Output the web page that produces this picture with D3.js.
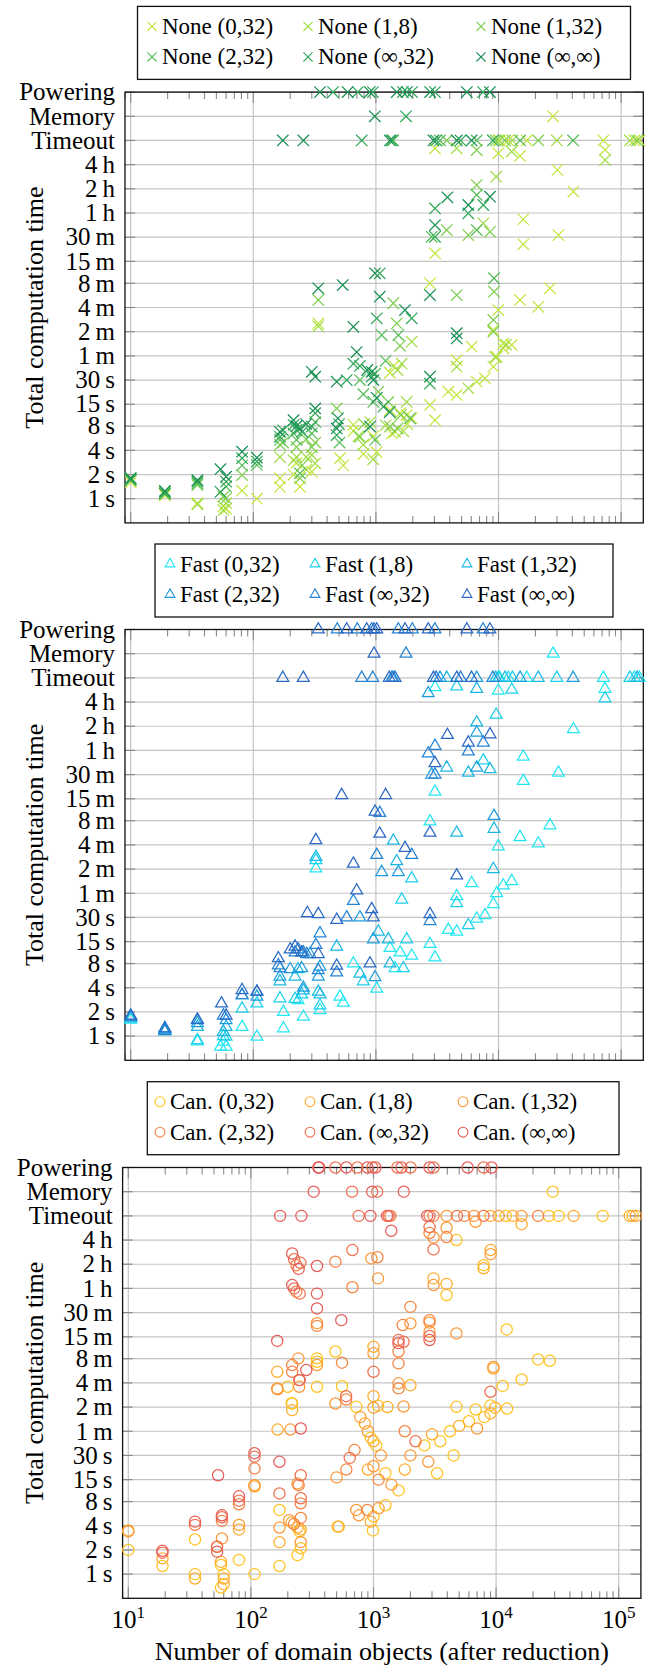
<!DOCTYPE html>
<html>
<head>
<meta charset="utf-8">
<script src="https://cdn.jsdelivr.net/npm/d3@7"></script>
<style>
  html, body { margin: 0; padding: 0; background: #fff; }
  svg { display: block; }
  text { font-family: "Liberation Serif", "Times New Roman", serif; fill: #000; }
</style>
</head>
<body>
<svg id="chart" width="652" height="1672"></svg>
<script>
// ---------- axes ----------
const xTickValues = [10, 100, 1000, 10000, 100000];
const xTickExponents = ["1", "2", "3", "4", "5"];
const xLimits = [8.985, 151700];
const yTickValues = [1, 2, 4, 8, 15, 30, 60, 120, 240, 480, 900, 1800, 3600, 7200, 14400];
const yTickLabels = ["1\u2009s", "2\u2009s", "4\u2009s", "8\u2009s", "15\u2009s", "30\u2009s", "1\u2009m", "2\u2009m", "4\u2009m", "8\u2009m", "15\u2009m", "30\u2009m", "1\u2009h", "2\u2009h", "4\u2009h"];
const outcomeLabels = ["Timeout", "Memory", "Powering"];
const outcomeValues = [28800, 57600, 115200];   // drawn one doubling apart above 4 h
const yLimits = [0.5, 115200];

const seriesKeys = ["(0,32)", "(1,8)", "(1,32)", "(2,32)", "(\u221e,32)", "(\u221e,\u221e)"];
const noneColors = ["#c3e63f", "#a2dc47", "#7ecf4f", "#55bd57", "#30a758", "#178f52"];
const fastColors = ["#22e6f2", "#1dcfea", "#1ab7e3", "#1d9ddc", "#2483d3", "#2a68c6"];
const canColors  = ["#ffc21f", "#ffac2b", "#fb9937", "#f58443", "#ef704e", "#e85c58"];

// ---------- None ----------
const none032 = [[10,1.6],[19,1.1],[35,0.88],[57,0.8],[60,0.75],[81,1.26],[107,1.0],[165,1.4],[165,1.8],[213,2.0],[225,2.8],[240,1.41],[270,2.3],[300,2.17],[339,152],[509,3.2],[542,2.6],[655,8.3],[655,7],[790,3.6],[950,6],[1016,3.8],[1303,12.7],[1300,37],[1350,6.5],[1400,45],[1432,6.8],[1574,11.6],[1783,11],[1800,8.5],[1959,10],[2761,14.7],[3034,9.5],[3895,21.5],[4560,19.6],[4560,53],[6041,78],[6640,28.6],[7762,31.5],[9077,44],[9077,126],[9666,58.5],[10940,74.5],[10900,85],[12816,82],[2761,480],[9960,223],[14970,298],[21120,245],[26300,416],[3034,1130],[15930,1470],[30800,1910],[15930,3000],[40800,6650],[30200,12400],[3034,23000],[9960,19900],[14970,18500],[73900,22000],[27900,"Memory"],[10200,"Timeout"],[12000,"Timeout"],[17000,"Timeout"],[71700,"Timeout"],[128000,"Timeout"],[141000,"Timeout"]];
const none18 = [[10,1.7],[19,1.15],[35,0.85],[57,0.72],[60,0.88],[165,3.3],[213,3.0],[225,3.3],[270,3.3],[300,3.5],[320,2.76],[339,140],[720,6],[789,4.7],[900,9],[950,3.1],[1200,8.2],[1500,40],[1624,48],[1674,6.9],[1783,16],[1959,90],[4560,44],[5672,23.7],[9400,58],[11500,83],[7516,2680],[9570,10200],[4560,23000],[12816,21000],[73900,16400],[10000,"Timeout"],[13000,"Timeout"],[29900,"Timeout"],[118000,"Timeout"]];
const none132 = [[10,1.8],[19,1.2],[35,1.48],[57,1.06],[60,1.01],[81,1.97],[165,4.7],[175,5.0],[225,4.4],[240,1.8],[250,2.6],[270,5.5],[300,4.4],[320,5],[339,298],[479,13.3],[741,5.9],[800,8.5],[1047,21.5],[1262,16],[1303,7.9],[1387,271],[1479,152],[1500,7.5],[1574,80],[1600,11],[4560,343],[9077,120],[9077,168],[9188,378],[3779,2210],[5672,1910],[8530,2100],[6640,8030],[6640,21900],[3780,"Timeout"],[9500,"Timeout"],[11300,"Timeout"],[21100,"Timeout"],[135000,"Timeout"]];
const none232 = [[10,1.75],[19,1.2],[35,1.55],[60,1.41],[81,2.6],[107,2.63],[165,5.4],[213,6.5],[225,5.4],[240,2.07],[300,6.5],[320,9],[505,5],[741,30],[790,20],[953,16],[984,5.4],[984,36],[1115,109],[1200,52],[1524,109],[1900,10],[9188,555],[2852,1820],[6640,2210],[6640,6040],[1380,"Timeout"],[3330,"Timeout"],[6640,"Timeout"],[15000,"Timeout"],[40600,"Timeout"]];
const noneInf32 = [[10,1.7],[19,1.15],[35,1.63],[54,1.22],[60,1.63],[81,3.2],[107,2.9],[165,5.9],[175,7.1],[213,8.3],[225,7.2],[240,7.5],[250,6.8],[300,7.9],[320,11.6],[479,6.2],[500,8.5],[578,30],[655,48],[740,45],[924,33],[1016,176],[1075,640],[1150,14],[1959,176],[2761,27],[3034,1820],[5672,3570],[3034,4100],[7516,4530],[1760,"Memory"],[447,"Powering"],[711,"Powering"],[946,"Powering"],[1660,"Powering"],[1970,"Powering"],[3030,"Powering"],[7480,"Powering"],[766,"Timeout"],[1350,"Timeout"],[3100,"Timeout"],[4900,"Timeout"],[9000,"Timeout"]];
const noneInfInf = [[10,1.8],[19,1.25],[35,1.7],[54,2.33],[60,1.88],[81,3.85],[107,3.24],[165,6.8],[213,9.5],[225,8.0],[270,8.5],[300,38],[320,33],[320,13.3],[339,416],[479,28.6],[479,7.5],[490,10],[536,457],[655,138],[697,67],[850,40],[895,7.9],[924,38],[953,30],[984,640],[1016,18],[1075,327],[1300,12],[1727,223],[2761,33],[2761,343],[4560,99],[4560,115],[3034,2550],[3830,5640],[5672,4530],[8530,5750],[980,"Memory"],[350,"Powering"],[588,"Powering"],[891,"Powering"],[1480,"Powering"],[1790,"Powering"],[2770,"Powering"],[5520,"Powering"],[8510,"Powering"],[174,"Timeout"],[256,"Timeout"],[1300,"Timeout"],[2950,"Timeout"],[4570,"Timeout"],[6030,"Timeout"]];

// ---------- Fast ----------
const fast032 = [[10,1.6],[19,1.15],[35,0.86],[54,0.74],[57,0.85],[60,0.74],[81,1.3],[107,0.98],[176,1.25],[176,2.0],[232,2.8],[256,1.74],[350,2.1],[324,122],[509,3.1],[542,2.6],[655,8.0],[1016,3.9],[1303,12.5],[1432,7.0],[1574,11],[1959,10],[2761,14],[3034,9.5],[3895,21],[4560,20],[4560,55],[6041,80],[6640,29],[7762,32],[9077,44],[9666,60],[10940,75],[12816,85],[2761,470],[9960,230],[14970,300],[21120,250],[26300,420],[3034,1100],[15930,1500],[30800,1900],[15930,3000],[40800,6600],[3034,22000],[9960,20000],[73900,21000],[27900,"Memory"],[10200,"Timeout"],[12000,"Timeout"],[17000,"Timeout"],[71700,"Timeout"],[128000,"Timeout"],[141000,"Timeout"]];
const fast18 = [[10,1.65],[19,1.2],[35,0.89],[57,1.0],[60,0.98],[81,2.2],[107,2.55],[165,2.95],[219,2.9],[248,3.3],[350,2.4],[324,155],[789,4.8],[1624,50],[1674,7],[1783,16],[1959,92],[4560,45],[5672,24],[7516,2700],[9570,10000],[4560,22500],[12816,20500],[73900,16000],[10000,"Timeout"],[13000,"Timeout"],[29900,"Timeout"],[118000,"Timeout"]];
const fast132 = [[10,1.7],[19,1.25],[35,1.3],[57,1.13],[60,1.3],[165,4.8],[219,5.5],[232,6.8],[256,3.7],[339,3.56],[350,3.3],[324,170],[479,13],[741,6],[1047,20],[1262,16],[1303,8],[1387,270],[1479,150],[4560,340],[9077,120],[9188,380],[3779,2200],[5672,1900],[8530,2100],[6640,8000],[6640,21000],[3780,"Timeout"],[9500,"Timeout"],[11300,"Timeout"],[21100,"Timeout"],[135000,"Timeout"]];
const fast232 = [[10,1.74],[19,1.2],[35,1.45],[60,1.58],[81,3.24],[107,3.1],[165,5.5],[200,6.8],[248,7.0],[256,4.0],[290,10.5],[339,5.5],[350,7.3],[741,30],[953,16],[984,5.4],[1115,110],[1524,110],[9188,550],[2674,18500],[2852,1800],[6640,2200],[6640,6000],[1380,"Timeout"],[3330,"Timeout"],[6640,"Timeout"],[15000,"Timeout"],[40600,"Timeout"]];
const fastInf32 = [[10,1.74],[19,1.15],[35,1.58],[57,1.8],[81,3.24],[107,3.56],[160,7.6],[165,7.0],[219,11],[232,12],[256,11],[273,10.5],[324,13.6],[339,6.6],[350,19],[479,6.2],[578,30],[655,48],[1016,180],[1075,600],[1959,180],[2674,3300],[2761,27],[3034,1800],[5672,3500],[3034,4100],[7516,4500],[1760,"Memory"],[484,"Powering"],[705,"Powering"],[924,"Powering"],[1524,"Powering"],[1982,"Powering"],[3030,"Powering"],[7480,"Powering"],[766,"Timeout"],[942,"Timeout"],[1350,"Timeout"],[3100,"Timeout"],[4900,"Timeout"],[9000,"Timeout"]];
const fastInfInf = [[10,1.8],[19,1.25],[35,1.6],[55,2.55],[60,1.8],[81,3.74],[107,3.56],[160,9.3],[200,12],[219,13],[248,11],[276,34],[339,33],[339,10.5],[324,275],[479,28],[479,7.5],[526,1000],[655,140],[697,65],[895,8],[924,38],[953,30],[984,620],[1075,330],[1200,1000],[1727,220],[2761,33],[2761,340],[4560,100],[3034,2500],[3830,5600],[5672,4500],[8530,5700],[965,"Memory"],[339,"Powering"],[578,"Powering"],[841,"Powering"],[965,"Powering"],[1016,"Powering"],[1727,"Powering"],[2674,"Powering"],[5520,"Powering"],[8510,"Powering"],[174,"Timeout"],[256,"Timeout"],[1285,"Timeout"],[1432,"Timeout"],[2950,"Timeout"],[4570,"Timeout"],[6030,"Timeout"]];

// ---------- Can. ----------
const can032 = [[10,2.0],[19,1.26],[35,1.0],[35,2.7],[57,1.3],[57,0.68],[60,1.0],[80,1.5],[107,1.0],[171,1.26],[171,6.3],[200,215],[215,134],[217,133],[240,1.72],[250,3.4],[255,2.1],[346,215],[346,485],[346,440],[489,590],[510,3.9],[553,218],[724,121],[950,50],[990,3.5],[1000,5.2],[1050,40],[1088,125],[1250,7.2],[1250,18],[1600,11],[2600,40],[3300,18],[3500,45],[3945,2980],[4200,60],[4500,30],[4750,14400],[4750,121],[6000,80],[6810,112],[7910,7000],[8000,90],[9000,126],[11300,220],[12200,1110],[12300,115],[16150,265],[22000,470],[27400,452],[28970,"Memory"],[12000,"Timeout"],[26900,"Timeout"],[32400,"Timeout"],[74000,"Timeout"],[130000,"Timeout"]];
const can18 = [[10,3.5],[19,1.57],[35,0.88],[57,1.42],[60,0.88],[60,0.75],[80,3.6],[107,12.3],[164,330],[165,63],[171,2.5],[215,4.4],[217,110],[240,3.8],[255,3.6],[520,3.9],[850,75],[900,20],[950,4.5],[1000,45],[1000,164],[1000,675],[1300,120],[1800,20],[2000,225],[3000,55],[3088,4800],[3945,4100],[5000,70],[7910,6400],[9000,100],[9020,10800],[9500,362],[9800,118],[16150,22700],[9000,"Timeout"],[13700,"Timeout"],[42900,"Timeout"],[123000,"Timeout"]];
const can132 = [[10,3.4],[58,2.78],[80,4.1],[107,12.8],[164,205],[165,200],[171,3.8],[205,4.7],[210,63],[240,13.4],[244,485],[248,215],[255,2.5],[346,400],[346,1330],[489,133],[500,16],[724,6.3],[760,5.4],[780,90],[900,60],[961,8500],[1000,560],[1000,22],[1000,118],[1088,4800],[1100,6.6],[1150,30],[1400,13],[1600,237],[1760,122],[2000,1320],[2000,30],[2800,25],[2864,1350],[2864,1040],[3088,3960],[3088,15500],[3945,20500],[4750,990],[6810,24300],[7000,65],[9020,9600],[9500,380],[3945,"Timeout"],[6600,"Timeout"],[10500,"Timeout"],[16100,"Timeout"],[138000,"Timeout"]];
const can232 = [[53,2.19],[58,4.6],[80,7.4],[107,20.7],[217,400],[217,330],[225,4.2],[235,7000],[235,3280],[245,12.8],[250,260],[255,5.0],[255,7.6],[346,1230],[489,7740],[553,428],[598,149],[600,20],[673,3720],[700,35],[890,6.3],[1076,8800],[1100,15],[1600,590],[1600,420],[1600,205],[1730,1260],[1800,60],[2000,2120],[2864,1450],[2864,17600],[3088,"Timeout"],[3945,15700],[1374,"Timeout"],[5500,"Timeout"],[22000,"Timeout"]];
const canInf32 = [[19,1.85],[35,4.1],[53,2.19],[58,5.1],[80,8.2],[107,29],[171,10.1],[225,8300],[225,3600],[250,3100],[253,7500],[255,17],[255,8.8],[598,164],[640,28],[673,10800],[1000,330],[1600,820],[1760,780],[2200,45],[2864,920],[2864,20900],[3088,11000],[9000,186],[668,"Memory"],[1071,"Memory"],[489,"Powering"],[739,"Powering"],[980,"Powering"],[1568,"Powering"],[2003,"Powering"],[3088,"Powering"],[7911,"Powering"],[757,"Timeout"],[1330,"Timeout"],[2864,"Timeout"],[4800,"Timeout"],[7900,"Timeout"]];
const canInfInf = [[19,1.95],[35,4.5],[53,1.9],[54,17],[58,5.4],[80,9.3],[107,32],[164,800],[171,25],[217,9800],[217,3960],[245,6300],[248,260],[255,65],[283,347],[346,6840],[346,3100],[346,2030],[546,1450],[1396,18800],[1600,750],[2864,820],[325,"Memory"],[975,"Memory"],[1766,"Memory"],[355,"Powering"],[360,"Powering"],[601,"Powering"],[892,"Powering"],[1037,"Powering"],[1690,"Powering"],[2864,"Powering"],[5857,"Powering"],[9190,"Powering"],[173,"Timeout"],[258,"Timeout"],[944,"Timeout"],[1290,"Timeout"],[2742,"Timeout"]];

// ---------- layout ----------
const plotHeight = 430.8;
const panels = [
  { name: "None", shape: "cross",    colors: noneColors, series: [none032, none18, none132, none232, noneInf32, noneInfInf],
    left: 125,   right: 643.3, top: 92.1,   legend: { top: 6.4,    left: 137.5, right: 630.5, cols: [152, 308, 481] }, xLabels: false },
  { name: "Fast", shape: "triangle", colors: fastColors, series: [fast032, fast18, fast132, fast232, fastInf32, fastInfInf],
    left: 125,   right: 643.3, top: 629.5,  legend: { top: 544,    left: 155,   right: 613,   cols: [170, 315, 467] }, xLabels: false },
  { name: "Can.", shape: "circle",   colors: canColors,  series: [can032, can18, can132, can232, canInf32, canInfInf],
    left: 122.6, right: 640.9, top: 1167.5, legend: { top: 1081.7, left: 147.3, right: 619,   cols: [160, 310, 463] }, xLabels: true }
];

const outcomeOf = Object.fromEntries(outcomeLabels.map((l, i) => [l, outcomeValues[i]]));
const yValue = v => (typeof v === "string" ? outcomeOf[v] : v);

const markerPath = {
  cross:    r => `M${-r},${-r}L${r},${r}M${-r},${r}L${r},${-r}`,
  triangle: r => `M0,${-r * 1.15}L${r},${r * 0.58}L${-r},${r * 0.58}Z`,
  circle:   r => `M${r},0A${r},${r} 0 1,1 ${-r},0A${r},${r} 0 1,1 ${r},0Z`
};
const markerSize = { cross: 5.7, triangle: 5.9, circle: 5.6 };

const svg = d3.select("#chart");
const gridColor = "#c4c4c4";
const tickColor = "#8a8a8a";

panels.forEach(p => {
  const bottom = p.top + plotHeight;
  const x = d3.scaleLog().domain(xLimits).range([p.left, p.right]);
  const y = d3.scaleLog().base(2).domain(yLimits).range([bottom, p.top]);
  const g = svg.append("g");

  const allY = yTickValues.concat(outcomeValues);
  const allYLabels = yTickLabels.concat(outcomeLabels);

  // grid
  g.append("g").selectAll("line").data(allY).join("line")
    .attr("x1", p.left).attr("x2", p.right)
    .attr("y1", d => y(d)).attr("y2", d => y(d))
    .attr("stroke", gridColor).attr("stroke-width", 1.2);
  g.append("g").selectAll("line").data(xTickValues).join("line")
    .attr("x1", d => x(d)).attr("x2", d => x(d))
    .attr("y1", p.top).attr("y2", bottom)
    .attr("stroke", gridColor).attr("stroke-width", 1.2);

  // y ticks, both sides, pointing inwards
  const yTicks = g.append("g").attr("stroke", tickColor).attr("stroke-width", 1.2);
  allY.forEach(v => {
    yTicks.append("line").attr("x1", p.left).attr("x2", p.left + 10).attr("y1", y(v)).attr("y2", y(v));
    yTicks.append("line").attr("x1", p.right - 10).attr("x2", p.right).attr("y1", y(v)).attr("y2", y(v));
  });

  // x ticks (major and minor), top and bottom
  const minor = [];
  for (let e = 0; e <= 5; e++) for (let k = 2; k <= 9; k++) {
    const v = k * Math.pow(10, e);
    if (v > xLimits[0] && v < xLimits[1]) minor.push(v);
  }
  const xTicks = g.append("g").attr("stroke", tickColor).attr("stroke-width", 1.1);
  minor.forEach(v => {
    xTicks.append("line").attr("x1", x(v)).attr("x2", x(v)).attr("y1", bottom).attr("y2", bottom - 7);
    xTicks.append("line").attr("x1", x(v)).attr("x2", x(v)).attr("y1", p.top).attr("y2", p.top + 7);
  });
  xTickValues.forEach(v => {
    xTicks.append("line").attr("x1", x(v)).attr("x2", x(v)).attr("y1", bottom).attr("y2", bottom - 11);
    xTicks.append("line").attr("x1", x(v)).attr("x2", x(v)).attr("y1", p.top).attr("y2", p.top + 11);
  });

  // frame
  g.append("rect").attr("x", p.left).attr("y", p.top)
    .attr("width", p.right - p.left).attr("height", plotHeight)
    .attr("fill", "none").attr("stroke", "#111").attr("stroke-width", 1.3);

  // y tick labels
  g.append("g").selectAll("text").data(allY).join("text")
    .attr("x", p.left - 10).attr("y", d => y(d)).attr("dy", "0.33em")
    .attr("text-anchor", "end").attr("font-size", 25)
    .text((d, i) => allYLabels[i]);

  // y axis title
  g.append("text")
    .attr("transform", `translate(43,${(p.top + bottom) / 2}) rotate(-90)`)
    .attr("text-anchor", "middle").attr("font-size", 26)
    .text("Total computation time");

  // points
  const r = markerSize[p.shape];
  p.series.forEach((data, si) => {
    g.append("g").selectAll("path").data(data).join("path")
      .attr("transform", d => `translate(${x(d[0])},${y(yValue(d[1]))})`)
      .attr("d", markerPath[p.shape](r))
      .attr("fill", "none").attr("stroke", p.colors[si]).attr("stroke-width", 1.25);
  });

  // legend (3 columns x 2 rows)
  const L = p.legend;
  const lg = svg.append("g");
  lg.append("rect").attr("x", L.left).attr("y", L.top).attr("width", L.right - L.left).attr("height", 73)
    .attr("fill", "#fff").attr("stroke", "#111").attr("stroke-width", 1.3);
  const rowY = [L.top + 20, L.top + 50.5];
  seriesKeys.forEach((k, i) => {
    const c = i % 3, row = Math.floor(i / 3);
    const mx = L.cols[c];
    lg.append("path").attr("transform", `translate(${mx},${rowY[row]})`)
      .attr("d", markerPath[p.shape](p.shape === "cross" ? 4.6 : 4.9))
      .attr("fill", "none").attr("stroke", p.colors[i]).attr("stroke-width", 1.1);
    lg.append("text").attr("x", mx + 10).attr("y", rowY[row]).attr("dy", "0.33em")
      .attr("font-size", 23).text(`${p.name} ${k}`);
  });

  // x tick labels on the bottom panel
  if (p.xLabels) {
    const xl = svg.append("g");
    xTickValues.forEach((v, i) => {
      const t = xl.append("text").attr("x", x(v)).attr("y", bottom + 30)
        .attr("text-anchor", "middle").attr("font-size", 25);
      t.append("tspan").text("10");
      t.append("tspan").attr("dy", -10).attr("font-size", 17).text(xTickExponents[i]);
    });
    svg.append("text").attr("x", (p.left + p.right) / 2).attr("y", bottom + 62)
      .attr("text-anchor", "middle").attr("font-size", 26)
      .text("Number of domain objects (after reduction)");
  }
});
</script>
</body>
</html>
